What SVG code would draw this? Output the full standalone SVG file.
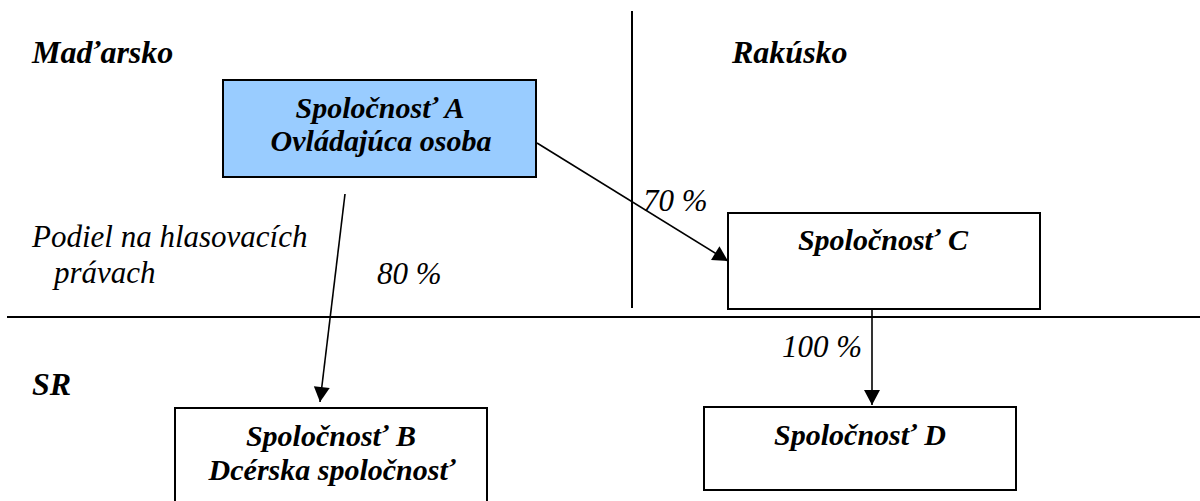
<svg xmlns="http://www.w3.org/2000/svg" width="1200" height="501" viewBox="0 0 1200 501">
  <style>
    .box { fill: #ffffff; stroke: #000000; stroke-width: 2; }
    .boxA { fill: #99ccff; stroke: #000000; stroke-width: 2; }
    .div { stroke: #000000; stroke-width: 2; fill: none; }
    .conn { stroke: #000000; stroke-width: 1.6; fill: none; marker-end: url(#arrow); }
    .bt { font-family: "Liberation Serif", "Times New Roman", serif; font-weight: bold; font-style: italic; font-size: 30px; fill: #000; text-anchor: middle; }
    .region { font-family: "Liberation Serif", "Times New Roman", serif; font-weight: bold; font-style: italic; font-size: 32px; fill: #000; }
    .lbl { font-family: "Liberation Serif", "Times New Roman", serif; font-style: italic; font-size: 31px; fill: #000; }
  </style>
  <defs>
    <marker id="arrow" markerUnits="userSpaceOnUse" markerWidth="18" markerHeight="18" viewBox="0 0 18 18" refX="16" refY="9" orient="auto">
      <path d="M1,1 L16,9 L1,17 Z" fill="#000"/>
    </marker>
  </defs>
  <rect width="1200" height="501" fill="#ffffff"/>

  <g id="dividers">
    <line class="div" x1="632" y1="11" x2="632" y2="308"/>
    <line class="div" x1="7" y1="317" x2="1200" y2="317"/>
  </g>

  <g id="region-labels">
    <text class="region" x="32" y="63">Maďarsko</text>
    <text class="region" x="732" y="63">Rakúsko</text>
    <text class="region" x="32" y="395">SR</text>
    <text class="lbl" x="32" y="247" font-size="32">Podiel na hlasovacích</text>
    <text class="lbl" x="54" y="283" font-size="32">právach</text>
  </g>

  <g id="connectors">
    <line class="conn" x1="345" y1="194" x2="320" y2="402"/>
    <line class="conn" x1="537" y1="143" x2="728" y2="261"/>
    <line class="conn" x1="872" y1="309" x2="872" y2="405"/>
    <text class="lbl" x="377" y="284">80 %</text>
    <text class="lbl" x="643" y="211">70 %</text>
    <text class="lbl" x="782" y="357">100 %</text>
  </g>

  <g id="nodeA">
    <rect class="boxA" x="223" y="80" width="313" height="97"/>
    <text class="bt" x="380" y="118">Spoločnosť A</text>
    <text class="bt" x="381" y="151">Ovládajúca osoba</text>
  </g>

  <g id="nodeC">
    <rect class="box" x="728" y="213" width="312" height="96"/>
    <text class="bt" x="883" y="250">Spoločnosť C</text>
  </g>

  <g id="nodeB">
    <rect class="box" x="175" y="408" width="312" height="120"/>
    <text class="bt" x="331" y="446">Spoločnosť B</text>
    <text class="bt" x="332" y="480">Dcérska spoločnosť</text>
  </g>

  <g id="nodeD">
    <rect class="box" x="704" y="407" width="312" height="83"/>
    <text class="bt" x="860" y="445">Spoločnosť D</text>
  </g>
</svg>
